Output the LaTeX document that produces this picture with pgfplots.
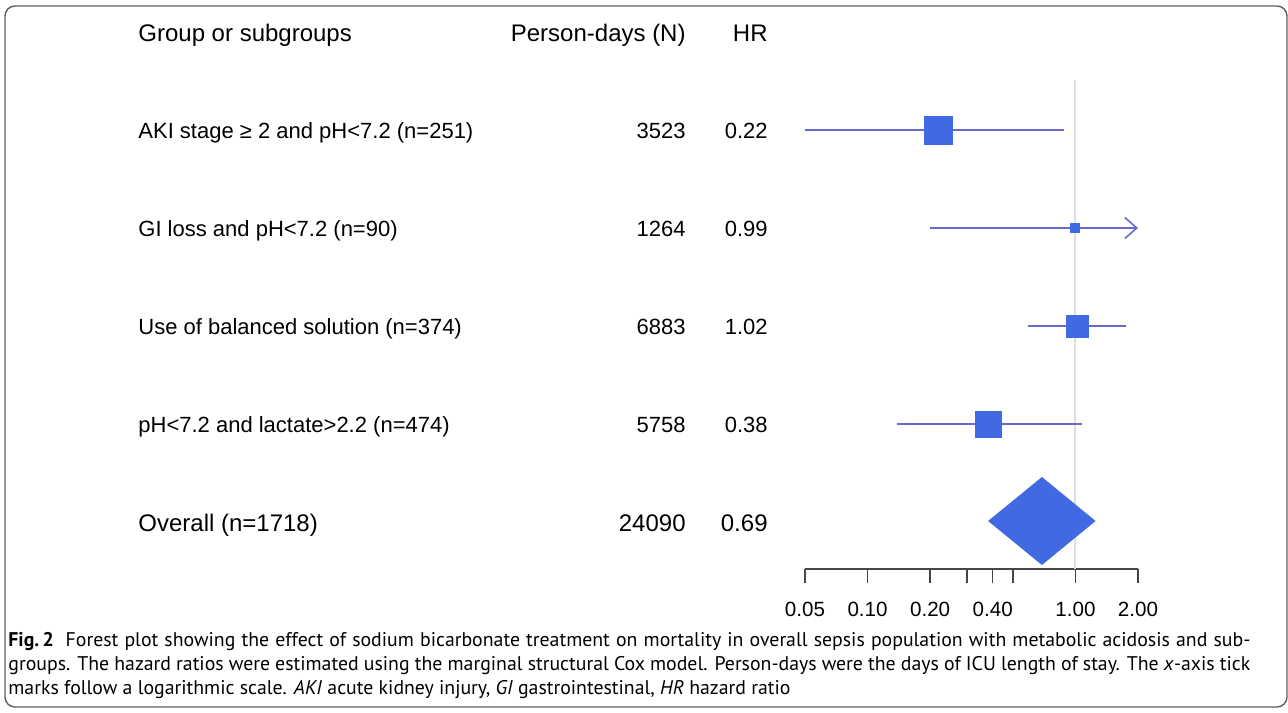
\documentclass[border=0pt]{standalone}
\usepackage{fontspec}
\setmainfont{Liberation Sans}
\newfontfamily\capfont{PT Sans}
\usepackage{pgfplots}
\pgfplotsset{compat=1.18}
\usetikzlibrary{arrows.meta}
\definecolor{royal}{RGB}{65,105,225}
\definecolor{cicol}{RGB}{105,105,205}
\definecolor{axcol}{RGB}{70,70,70}
\definecolor{refcol}{RGB}{222,222,222}
\definecolor{framecol}{RGB}{95,95,95}
\begin{document}
\begin{tikzpicture}[x=0.5pt,y=0.5pt]
\path (0,0) rectangle (1288,712);
\draw[framecol, line width=0.7pt, rounded corners=5pt, overlay] (5,5) rectangle (1287,706);
\begin{axis}[
  at={(402.5pt,71.5pt)}, anchor=south west,
  scale only axis, width=166.5pt, height=249.5pt,
  xmode=log, xmin=0.05, xmax=2, ymin=-569, ymax=-70,
  axis x line=bottom, axis y line=none,
  x axis line style={-, axcol, line width=0.75pt},
  clip=false,
  xtick={0.05,0.1,0.2,0.3,0.4,0.5,1,2},
  xticklabels={0.05,0.10,0.20,{},0.40,{},1.00,2.00},
  minor xtick={},
  tick align=outside, major tick length=7pt,
  x tick style={axcol, line width=0.75pt},
  xticklabel style={font=\fontsize{10.3}{12}\selectfont, anchor=base, yshift=-16.5pt},
]
% reference line
\addplot[refcol, line width=1pt] coordinates {(1,-569) (1,-80)};
% confidence intervals
\addplot[cicol, line width=1pt] coordinates {(0.05,-130) (0.88,-130)};
\addplot[cicol, line width=1pt, -{Straight Barb[length=6pt,width=10.5pt,line width=0.8pt]}] coordinates {(0.20,-228) (2.0,-228)};
\addplot[cicol, line width=1pt] coordinates {(0.588,-326) (1.76,-326)};
\addplot[cicol, line width=1pt] coordinates {(0.139,-424) (1.08,-424)};
% point estimates
\addplot[only marks, mark=square*, mark size=7pt, royal, mark options={fill=royal, draw=royal}] coordinates {(0.22,-130)};
\addplot[only marks, mark=square*, mark size=2.3pt, royal, mark options={fill=royal, draw=royal}] coordinates {(0.99,-228)};
\addplot[only marks, mark=square*, mark size=5.5pt, royal, mark options={fill=royal, draw=royal}] coordinates {(1.02,-326)};
\addplot[only marks, mark=square*, mark size=6.5pt, royal, mark options={fill=royal, draw=royal}] coordinates {(0.38,-424)};
% overall diamond
\addplot[fill=royal, draw=none] coordinates {(0.38,-521) (0.69,-477) (1.25,-521) (0.69,-565)} -- cycle;
\end{axis}
\begin{scope}[every node/.style={inner sep=0pt, font=\fontsize{12}{14}\selectfont}]
\node[anchor=base west] at (138,670) {Group or subgroups};
\node[anchor=base east] at (686,670) {Person-days (N)};
\node[anchor=base east] at (768,670) {HR};
\node[anchor=base west] at (138,181) {Overall (n=1718)};
\node[anchor=base east] at (686,181) {24090};
\node[anchor=base east] at (768,181) {0.69};
\end{scope}
\begin{scope}[every node/.style={inner sep=0pt, font=\fontsize{11}{13}\selectfont}]
\node[anchor=base west] at (138,573) {AKI stage ≥ 2 and pH<7.2 (n=251)};
\node[anchor=base west] at (138,475) {GI loss and pH<7.2 (n=90)};
\node[anchor=base west] at (138,377) {Use of balanced solution (n=374)};
\node[anchor=base west] at (138,279) {pH<7.2 and lactate>2.2 (n=474)};
\node[anchor=base east] at (686,573) {3523};
\node[anchor=base east] at (686,475) {1264};
\node[anchor=base east] at (686,377) {6883};
\node[anchor=base east] at (686,279) {5758};
\node[anchor=base east] at (768,573) {0.22};
\node[anchor=base east] at (768,475) {0.99};
\node[anchor=base east] at (768,377) {1.02};
\node[anchor=base east] at (768,279) {0.38};
\end{scope}
\begin{scope}[every node/.style={inner sep=0pt, anchor=base west, font=\capfont\fontsize{9.9}{12}\selectfont}]
\node at (8,66) {\hbox to 621pt{\textbf{Fig.\,2}\hspace{0.6em}Forest plot showing the effect of sodium bicarbonate treatment on mortality in overall sepsis population with metabolic acidosis and sub-}};
\node at (8,42) {\hbox to 621pt{groups. The hazard ratios were estimated using the marginal structural Cox model. Person-days were the days of ICU length of stay. The \textit{x}-axis tick}};
\node at (8,18) {marks follow a logarithmic scale. \textit{AKI} acute kidney injury, \textit{GI} gastrointestinal, \textit{HR} hazard ratio};
\end{scope}
\end{tikzpicture}
\end{document}
